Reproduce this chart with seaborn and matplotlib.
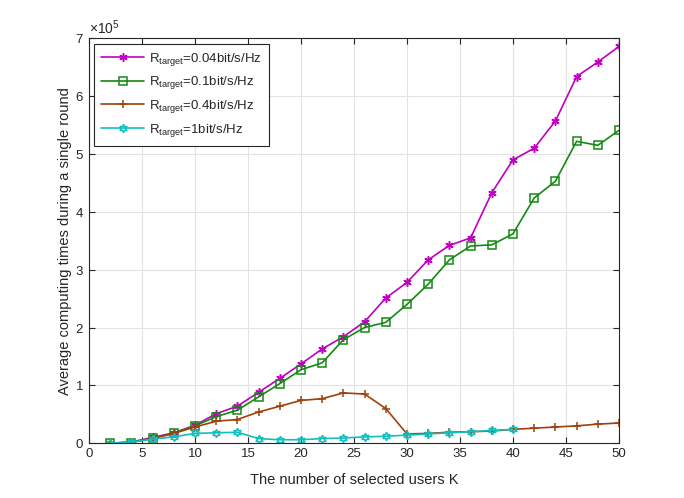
import matplotlib
matplotlib.use("Agg")
import matplotlib.pyplot as plt
import matplotlib.ticker as mticker
import seaborn as sns
import pandas as pd

# values, in units of 1e5
K = [2, 4, 6, 8, 10, 12, 14, 16, 18, 20, 22, 24, 26, 28, 30, 32, 34, 36, 38, 40, 42, 44, 46, 48, 50]
r004 = [0.0, 0.02, 0.10, 0.18, 0.31, 0.51, 0.64, 0.88, 1.12, 1.37, 1.63, 1.84, 2.10, 2.51, 2.78,
        3.17, 3.42, 3.55, 4.33, 4.90, 5.10, 5.57, 6.34, 6.59, 6.86]
r01 = [0.0, 0.01, 0.09, 0.17, 0.30, 0.46, 0.57, 0.80, 1.03, 1.27, 1.39, 1.79, 2.00, 2.09, 2.40,
       2.75, 3.17, 3.41, 3.43, 3.62, 4.24, 4.53, 5.22, 5.15, 5.41]
r04 = [0.0, 0.02, 0.08, 0.17, 0.28, 0.38, 0.41, 0.54, 0.64, 0.74, 0.77, 0.87, 0.85, 0.60, 0.16,
       0.17, 0.19, 0.20, 0.21, 0.24, 0.26, 0.28, 0.30, 0.33, 0.35]
K1 = [2, 4, 6, 8, 10, 12, 14, 16, 18, 20, 22, 24, 26, 28, 30, 32, 34, 36, 38, 40]
r1 = [0.0, 0.02, 0.07, 0.11, 0.17, 0.18, 0.19, 0.08, 0.06, 0.06, 0.08, 0.09, 0.11, 0.12, 0.14,
      0.16, 0.18, 0.20, 0.22, 0.24]

labels = [r"R$_{\mathrm{target}}$=0.04bit/s/Hz", r"R$_{\mathrm{target}}$=0.1bit/s/Hz",
          r"R$_{\mathrm{target}}$=0.4bit/s/Hz", r"R$_{\mathrm{target}}$=1bit/s/Hz"]
colors = ["#BF00BF", "#138A13", "#A0400A", "#10BFBF"]
markers = [(6, 2, 0), "s", "+", (6, 1, 0)]

sns.set_style("ticks")
plt.rcParams["font.family"] = ["Liberation Sans", "DejaVu Sans"]
plt.rcParams["mathtext.fontset"] = "custom"
plt.rcParams["mathtext.rm"] = "Liberation Sans"
plt.rcParams["mathtext.it"] = "Liberation Sans"
plt.rcParams["mathtext.default"] = "regular"

fig = plt.figure(figsize=(6.84, 4.98), dpi=100)
ax = fig.add_axes([0.13, 0.11, 0.775, 0.813])

series = [(K, r004), (K, r01), (K, r04), (K1, r1)]
for (xs, ys), lab, c, m in zip(series, labels, colors, markers):
    df = pd.DataFrame({"K": xs, "v": [v * 1e5 for v in ys]})
    sns.lineplot(data=df, x="K", y="v", ax=ax, color=c, marker=m, markersize=6,
                 markerfacecolor="none", markeredgecolor=c, markeredgewidth=1.1,
                 linewidth=1.2, label=lab)

ax.set_xlim(0, 50)
ax.set_ylim(0, 7e5)
ax.set_xticks(range(0, 51, 5))
ax.set_yticks([i * 1e5 for i in range(8)])
fmt = mticker.ScalarFormatter(useMathText=True)
fmt.set_powerlimits((0, 0))
ax.yaxis.set_major_formatter(fmt)
ax.yaxis.get_offset_text().set_fontsize(10)
ax.grid(True, color="#E3E3E3", linewidth=0.8)
ax.set_axisbelow(True)
for s in ax.spines.values():
    s.set_color("#262626")
    s.set_linewidth(0.8)
ax.tick_params(direction="in", top=True, right=True, labelsize=9.5, colors="#262626", length=4)
ax.set_xlabel("The number of selected users K", fontsize=10.5, color="#262626", labelpad=9)
ax.set_ylabel("Average computing times during a single round", fontsize=10.5, color="#262626", labelpad=2)

leg = ax.legend(loc="upper left", fontsize=9.5, handlelength=3.2, handletextpad=0.4,
                borderaxespad=0.4, borderpad=0.55, labelspacing=0.5, fancybox=False, framealpha=1)
leg.get_frame().set_edgecolor("#262626")
leg.get_frame().set_linewidth(0.8)

fig.savefig("out.png", dpi=100)
